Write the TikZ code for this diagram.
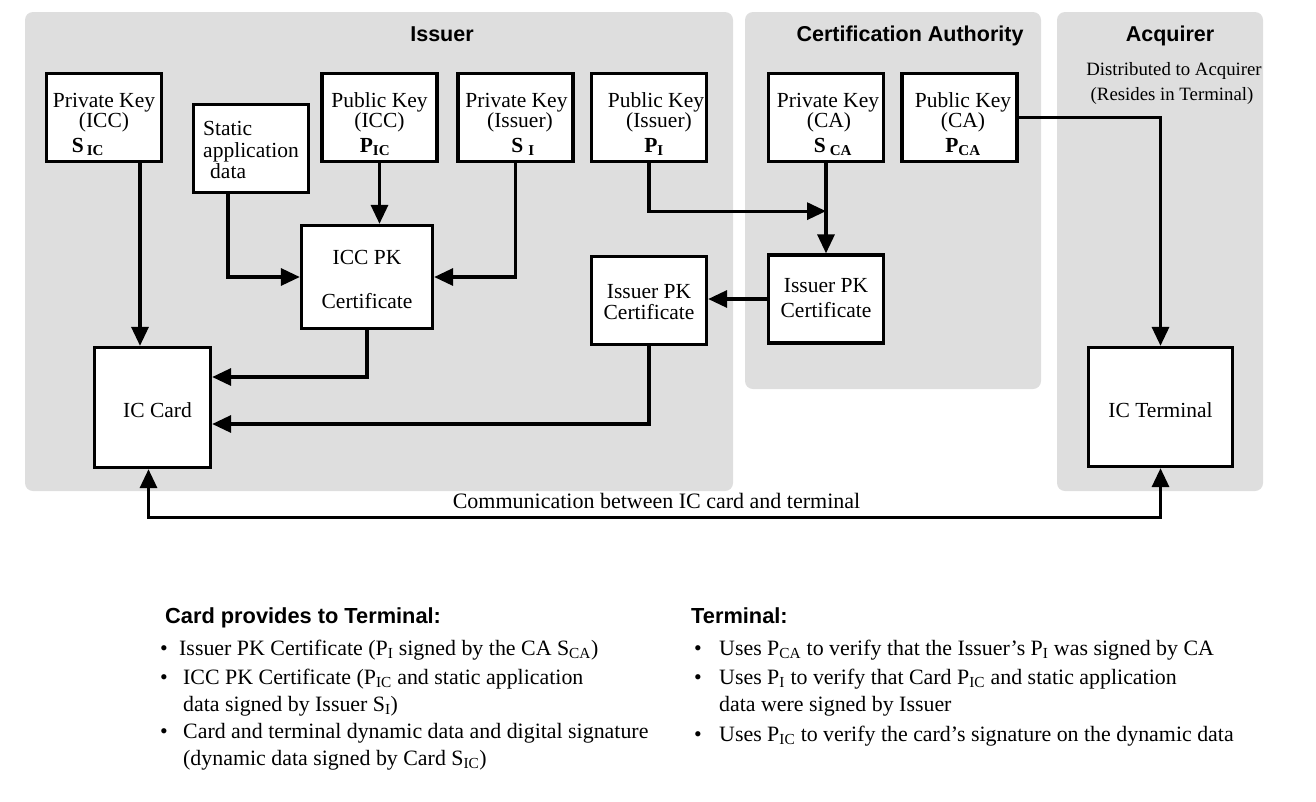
\documentclass[tikz,border=0pt]{standalone}
\usepackage{fontspec}
\setmainfont{Liberation Serif}
\setsansfont{Liberation Sans}
\usetikzlibrary{arrows.meta,calc}
\definecolor{panelgray}{RGB}{222,222,222}
\newcommand{\bul}[1]{\makebox[#1][l]{\textbullet}}
\begin{document}
\begin{tikzpicture}[x=1pt,y=-1pt,
  panel/.style={fill=panelgray, rounded corners=8pt, draw=none},
  title/.style={font=\fontsize{21.5}{21.5}\selectfont\sffamily\bfseries, inner sep=0pt},
  keybox/.style={draw, line width=3.3pt, fill=white, minimum width=115pt, minimum height=88pt, align=center, font=\fontsize{21.5}{21}\selectfont, inner sep=0pt},
  key3/.style={keybox, font=\fontsize{21.5}{20}\selectfont, text height=74pt, text depth=5pt},
  arr/.style={line width=3.3pt, -{Triangle[length=19pt,width=17pt]}},
  arrboth/.style={line width=3.3pt, {Triangle[length=19pt,width=17pt]}-{Triangle[length=19pt,width=17pt]}},
  note/.style={font=\fontsize{18.8}{18.8}\selectfont, inner sep=0pt},
  body/.style={font=\fontsize{21.9}{21.9}\selectfont, inner sep=0pt, anchor=base west},
  head/.style={font=\fontsize{21.8}{21.8}\selectfont\sffamily\bfseries, inner sep=0pt, anchor=base west}
]
\useasboundingbox (0,0) rectangle (1316,801);

% panels
\fill[panel] (25,12) rectangle (733,491);
\fill[panel] (745,12) rectangle (1041,389);
\fill[panel] (1057,12) rectangle (1263,491);

% titles
\node[title, anchor=base] (tiss) at (442,41.5) {Issuer};
\node[title, anchor=base] (tca) at (910,41.5) {Certification Authority};
\node[title, anchor=base] (tacq) at (1170,41.5) {Acquirer};
\node[note, anchor=base] (dist1) at (1174,75) {Distributed to Acquirer};
\node[note, anchor=base] (dist2) at (1172,100) {(Resides in Terminal)};

% key boxes
\node[key3] (sic) at (104,117.5) {Private Key\\(ICC)\hspace*{13pt}\\[5pt]{\bfseries S}\kern3pt\textsubscript{\bfseries IC}\hspace*{32pt}};
\node[keybox, align=left, font=\fontsize{21.5}{21.5}\selectfont, text height=65pt, text depth=5pt] (sad) at (251,148.5) {Static\\application\\\hspace*{7pt}data};
\node[key3] (pic) at (379.5,117.5) {Public Key\\(ICC)\hspace*{11pt}\\[5pt]{\bfseries P}\textsubscript{\bfseries IC}\hspace*{9pt}};
\node[key3] (si) at (515.5,117.5) {\hspace*{2pt}Private Key\\\hspace*{9pt}(Issuer)\\[5pt]\hspace*{15pt}{\bfseries S}\kern5pt\textsubscript{\bfseries I}};
\node[key3] (pi) at (649,117.5) {\hspace*{14pt}Public Key\\\hspace*{20pt}(Issuer)\\[5pt]\hspace*{10pt}{\bfseries P}\textsubscript{\bfseries I}};
\node[key3] (sca) at (826,117.5) {\hspace*{4pt}Private Key\\\hspace*{6pt}(CA)\\[5pt]\hspace*{14pt}{\bfseries S}\kern4pt\textsubscript{\bfseries CA}};
\node[key3] (pca) at (959.5,117.5) {\hspace*{7pt}Public Key\\\hspace*{7pt}(CA)\\[5pt]\hspace*{7pt}{\bfseries P}\textsubscript{\bfseries CA}};

% certificates
\node[keybox, minimum width=131pt, minimum height=103pt, text height=68pt, text depth=5pt] (icccert) at (367,277) {ICC PK\\[23pt]Certificate};
\node[keybox, text height=42pt, text depth=5pt] (ipki) at (649,300.5) {Issuer PK\\Certificate};
\node[keybox, text height=41pt, text depth=5pt] (ipkca) at (826,299) {Issuer PK\\[4pt]Certificate};

% card and terminal
\node[keybox, minimum width=116pt, minimum height=120pt, text height=19pt, text depth=0pt] (card) at (152.5,407.5) {\hspace*{10pt}IC Card};
\node[keybox, minimum width=144pt, minimum height=119pt, text height=20pt, text depth=0pt] (term) at (1160.5,407) {IC Terminal};

% connectors
\draw[arr] ([xshift=36pt]sic.south) coordinate (a1) -- (a1 |- card.north);
\draw[arr] ([xshift=-23pt]sad.south) |- (icccert.west);
\draw[arr] (pic.south) -- (pic.south |- icccert.north);
\draw[arr] (si.south) |- (icccert.east);
\coordinate (pj) at ($(sca.south)+(0,48)$);
\draw[arr] (pi.south) |- (pj);
\draw[arr] (sca.south) -- (ipkca.north);
\draw[arr] (ipkca.west) -- (ipkca.west -| ipki.east);
\draw[arr] (icccert.south) |- ([yshift=30.5pt]card.east);
\draw[arr] (ipki.south) |- ([yshift=-16.5pt]card.east);
\draw[arr] (pca.east) -| (term.north);
\draw[arrboth] ([xshift=-4pt]card.south) -- ++(0,48) coordinate (c1) -| (term.south);
\node[font=\fontsize{22}{22}\selectfont, inner sep=0pt, anchor=base] (comm) at (656.5,508) {Communication between IC card and terminal};

% bottom notes
\node[head] (h1) at (165,623) {Card provides to Terminal:};
\node[body] (b1) at (160,655) {\bul{19pt}Issuer PK Certificate (P\textsubscript{I} signed by the CA S\textsubscript{CA})};
\node[body] (b2) at (160,684) {\bul{23pt}ICC PK Certificate (P\textsubscript{IC} and static application};
\node[body] (b2b) at (183,711) {data signed by Issuer S\textsubscript{I})};
\node[body] (b3) at (160,738) {\bul{23pt}Card and terminal dynamic data and digital signature};
\node[body] (b3b) at (183,765) {(dynamic data signed by Card S\textsubscript{IC})};

\node[head] (h2) at (691,623) {Terminal:};
\node[body] (t1) at (694,655) {\bul{25pt}Uses P\textsubscript{CA} to verify that the Issuer’s P\textsubscript{I} was signed by CA};
\node[body] (t2) at (694,684) {\bul{25pt}Uses P\textsubscript{I} to verify that Card P\textsubscript{IC} and static application};
\node[body] (t2b) at (719,711) {data were signed by Issuer};
\node[body] (t3) at (694,741) {\bul{25pt}Uses P\textsubscript{IC} to verify the card’s signature on the dynamic data};
\end{tikzpicture}
\end{document}
